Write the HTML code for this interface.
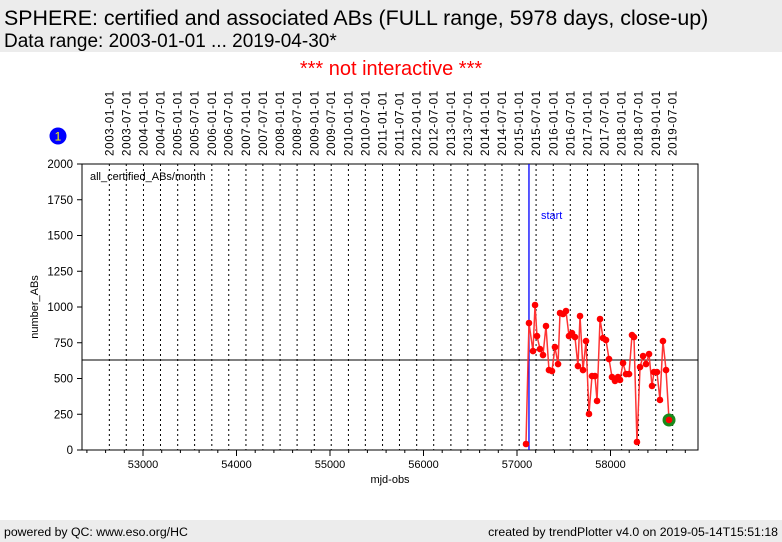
<!DOCTYPE html>
<html><head><meta charset="utf-8"><style>
body{margin:0;width:782px;height:542px;background:#fff;font-family:"Liberation Sans",sans-serif;overflow:hidden;position:relative}
.hdr{position:absolute;left:0;top:0;width:782px;height:52px;background:#ececec}
.ftr{position:absolute;left:0;top:520px;width:782px;height:22px;background:#ececec;font-size:12.3px}
</style></head><body>
<div class="hdr">
<div style="position:absolute;left:4px;top:6px;font-size:21.4px;white-space:nowrap">SPHERE: certified and associated ABs (FULL range, 5978 days, close-up)</div>
<div style="position:absolute;left:4px;top:31px;font-size:19px;white-space:nowrap">Data range: 2003-01-01 ... 2019-04-30*</div>
</div>
<div style="position:absolute;left:0;width:782px;top:58px;text-align:center;color:red;font-size:20px">*** not interactive ***</div>
<svg id="chart" width="782" height="542" style="position:absolute;left:0;top:0"></svg>
<div class="ftr">
<span style="position:absolute;left:4px;top:5px">powered by QC: www.eso.org/HC</span>
<span style="position:absolute;right:4px;top:5px">created by trendPlotter v4.0 on 2019-05-14T15:51:18</span>
</div>
<script>
const mjd=[57096,57128,57171,57193,57214,57246,57278,57310,57342,57374,57406,57439,57460,57492,57524,57556,57588,57620,57652,57674,57706,57738,57770,57802,57834,57856,57888,57920,57952,57984,58016,58048,58080,58102,58134,58166,58198,58230,58251,58283,58316,58348,58380,58412,58444,58465,58497,58529,58561,58594,58626];
const values=[42,888,692,1014,797,706,664,867,559,552,720,601,958,951,972,797,818,790,587,937,559,762,252,517,517,343,916,783,769,636,510,483,510,490,608,531,531,804,790,56,580,657,601,671,448,545,545,350,762,559,210];
const yTicks=[0,250,500,750,1000,1250,1500,1750,2000];
const xTicks=[53000,54000,55000,56000,57000,58000];
const dateLabels=["2003-01-01","2003-07-01","2004-01-01","2004-07-01","2005-01-01","2005-07-01","2006-01-01","2006-07-01","2007-01-01","2007-07-01","2008-01-01","2008-07-01","2009-01-01","2009-07-01","2010-01-01","2010-07-01","2011-01-01","2011-07-01","2012-01-01","2012-07-01","2013-01-01","2013-07-01","2014-01-01","2014-07-01","2015-01-01","2015-07-01","2016-01-01","2016-07-01","2017-01-01","2017-07-01","2018-01-01","2018-07-01","2019-01-01","2019-07-01"];
const meanValue=629;
const startMjd=57128;
const L=82,R=698,T=164,B=450;
const X=m=>143+(m-53000)*0.0935;
const Y=v=>B-(v/2000)*(B-T);
const svg=document.getElementById('chart');
const NS='http://www.w3.org/2000/svg';
function mk(tag,at,txt){const e=document.createElementNS(NS,tag);for(const k in at)e.setAttribute(k,at[k]);if(txt!==undefined)e.textContent=txt;svg.appendChild(e);return e;}
function dmjd(s){const d=Date.UTC(+s.slice(0,4),+s.slice(5,7)-1,+s.slice(8,10));return d/86400000+40587;}
dateLabels.forEach(s=>{const x=X(dmjd(s));
 let l=mk('line',{x1:x,x2:x,y1:T,y2:B,stroke:'#000','stroke-width':1,'stroke-dasharray':'2,3'});
 
 
 let t=mk('text',{x:0,y:0,transform:`translate(${x+4},156) rotate(-90)`,'font-size':11.5,'letter-spacing':'0.7'},s);
 
 
});
let fr=mk('rect',{x:L,y:T,width:R-L,height:B-T,fill:'none',stroke:'#000','stroke-width':1});


yTicks.forEach(v=>{const y=Y(v);
 let tk=mk('line',{x1:L-5,x2:L,y1:y,y2:y,stroke:'#000'});
 
 
 let t=mk('text',{x:L-9,y:y+4,'text-anchor':'end','font-size':11.5},v);
 
 
});
for(let m=52400;m<=58900;m+=200){const x=X(m);if(x<L||x>R)continue;const maj=m%1000===0;
 let tk=mk('line',{x1:x,x2:x,y1:B,y2:B+(maj?6:3),stroke:'#000'});
 
 
}
xTicks.forEach(m=>{let t=mk('text',{x:X(m),y:468,'text-anchor':'middle','font-size':11},m);
 
 });
let xl=mk('text',{x:390,y:483,'text-anchor':'middle','font-size':11},'mjd-obs');


let yl=mk('text',{x:0,y:0,transform:'translate(38,307) rotate(-90)','text-anchor':'middle','font-size':11},'number_ABs');


let lab=mk('text',{x:90,y:180,'font-size':11},'all_certified_ABs/month');


let ml=mk('line',{x1:L,x2:R,y1:Y(meanValue),y2:Y(meanValue),stroke:'#000','stroke-width':1});


let sl=mk('line',{x1:X(startMjd),x2:X(startMjd),y1:T,y2:B,stroke:'#00f','stroke-width':1.3});


let st=mk('text',{x:X(startMjd)+12,y:219,fill:'#00f','font-size':11},'start');


let pl=mk('polyline',{points:mjd.map((m,i)=>X(m)+','+Y(values[i])).join(' '),fill:'none',stroke:'#f33','stroke-width':1.5});


const n=mjd.length-1;
let g=mk('circle',{cx:X(mjd[n]),cy:Y(values[n]),r:6.5,fill:'#1a8a1a'});


mjd.forEach((m,i)=>{let c=mk('circle',{cx:X(m),cy:Y(values[i]),r:3.3,fill:'#f00'});
 
 });
let b=mk('circle',{cx:58,cy:136,r:8.5,fill:'#00f'});


let bt=mk('text',{x:58,y:140.5,'text-anchor':'middle',fill:'#ff0','font-size':12},'1');


</script>
</body></html>
